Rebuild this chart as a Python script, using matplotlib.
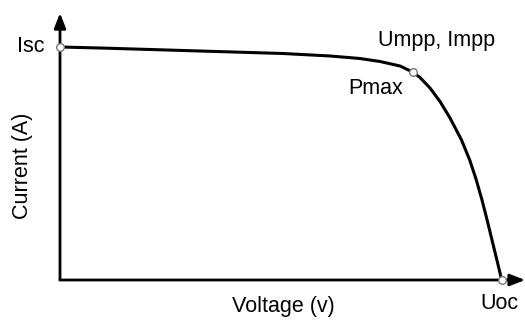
import matplotlib.pyplot as plt

plt.rcParams['font.family'] = ['Liberation Sans', 'DejaVu Sans']

# I-V curve, normalised (voltage / Uoc, current / Isc)
voltage = [0.0, 0.0906, 0.2038, 0.3170, 0.5049, 0.6113, 0.6792, 0.7245,
           0.7698, 0.7985, 0.8150, 0.8377, 0.8603, 0.8830, 0.9090, 0.9276,
           0.9425, 0.9554, 0.9670, 0.9780, 0.9891, 1.0]
current = [1.0, 0.9957, 0.9893, 0.9828, 0.9721, 0.9614, 0.9506, 0.9378,
           0.9185, 0.8927, 0.8691, 0.8240, 0.7661, 0.6953, 0.6009, 0.5150,
           0.4292, 0.3433, 0.2575, 0.1717, 0.0858, 0.0]
points = {'Isc': (0.0, 1.0), 'Pmax': (0.7985, 0.8927), 'Uoc': (1.0, 0.0)}

fig = plt.figure(figsize=(5.25, 3.2), dpi=100)
ax = fig.add_axes([60 / 525, 40 / 320, 441.7 / 525, 233 / 320])
ax.set_xlim(0, 1)
ax.set_ylim(0, 1)
ax.axis('off')

# axes with arrows
arrow = dict(arrowstyle='-|>,head_length=0.9,head_width=0.35',
             lw=2, color='black', shrinkA=0, shrinkB=0)
ax.annotate('', xy=(0, 1.146), xytext=(0, 0), arrowprops=arrow,
            annotation_clip=False)
ax.annotate('', xy=(1.053, 0), xytext=(0, 0), arrowprops=arrow,
            annotation_clip=False)

ax.plot(voltage, current, color='black', lw=2.2, clip_on=False, zorder=3,
        solid_joinstyle='round')
for name, (u, i) in points.items():
    ax.plot(u, i, 'o', ms=5.5, mfc='white', mec='#777777', mew=1,
            clip_on=False, zorder=4)

fs = 15.5
ax.text(-0.035, 1.0, 'Isc', ha='right', va='center', fontsize=fs)
ax.text(0.8535, 1.03, 'Umpp, Impp', ha='center', va='center', fontsize=fs)
ax.text(0.7766, 0.824, 'Pmax', ha='right', va='center', fontsize=fs)
ax.text(0.994, -0.10, 'Uoc', ha='center', va='center', fontsize=fs)
ax.text(0.505, -0.112, 'Voltage (v)', ha='center', va='center', fontsize=fs)
ax.text(-0.086, 0.49, 'Current (A)', ha='center', va='center', fontsize=fs,
        rotation=90)

fig.savefig('out.png', dpi=100)
